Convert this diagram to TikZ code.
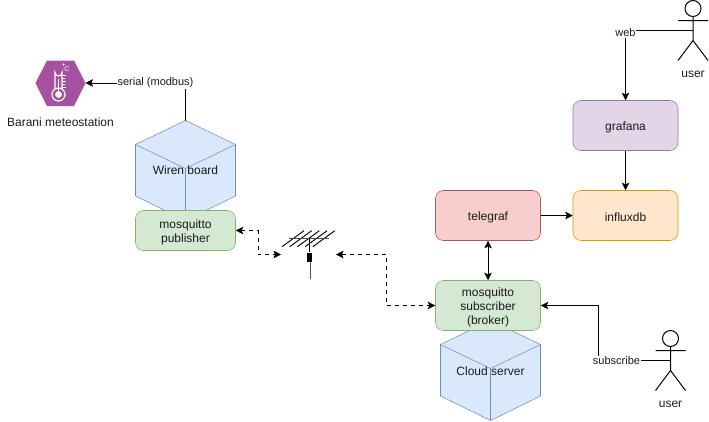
\documentclass[tikz,border=0pt]{standalone}
\usepackage{fontspec}
\setmainfont{Liberation Sans}
\usetikzlibrary{arrows.meta}
\definecolor{txt}{HTML}{1A1A1A}
\definecolor{gF}{HTML}{D5E8D4}\definecolor{gB}{HTML}{82B366}
\definecolor{rF}{HTML}{F8CECC}\definecolor{rB}{HTML}{B85450}
\definecolor{oF}{HTML}{FFE6CC}\definecolor{oB}{HTML}{D79B00}
\definecolor{pF}{HTML}{E1D5E7}\definecolor{pB}{HTML}{9673A6}
\definecolor{bF}{HTML}{DAE8FC}\definecolor{bB}{HTML}{6C8EBF}
\definecolor{hexF}{HTML}{A5519F}
\newcommand\topstrutx{\rule{0pt}{8.7pt}}
\tikzset{
  x=0.75pt,y=-0.75pt,
  line width=0.75pt,
  lbl/.style={font=\fontsize{9pt}{10.5pt}\selectfont,text=txt,inner sep=0pt,align=center},
  edgelbl/.style={font=\fontsize{8.25pt}{10pt}\selectfont,text=txt,fill=white,inner sep=0.5pt},
  boxn/.style={draw=#1,rounded corners=6pt,inner sep=0pt,font=\fontsize{9pt}{10.5pt}\selectfont,text=txt,align=center},
  pub/.style={boxn=gB,fill=gF,minimum width=75pt,minimum height=30pt},
  sub/.style={boxn=gB,fill=gF,minimum width=78.75pt,minimum height=37.5pt},
  tele/.style={boxn=rB,fill=rF,minimum width=78.75pt,minimum height=37.5pt},
  infl/.style={boxn=oB,fill=oF,minimum width=78.75pt,minimum height=37.5pt},
  graf/.style={boxn=pB,fill=pF,minimum width=78.75pt,minimum height=37.5pt},
  cube/.style={draw=bB,fill=bF,line join=round},
  conn/.style={draw=black,-{Stealth[length=5.6pt,width=5.6pt,inset=1.2pt]}},
  conn2/.style={draw=black,{Stealth[length=5.6pt,width=5.6pt,inset=1.2pt]}-{Stealth[length=5.6pt,width=5.6pt,inset=1.2pt]}},
  dconn/.style={conn2,dash pattern=on 3pt off 3pt},
  actor/.style={draw=black,line width=0.75pt},
  ther/.style={draw=white,line width=0.9pt},
}
\begin{document}
\begin{tikzpicture}
\useasboundingbox (0,0) rectangle (709,421);
% cubes
\path[cube] (135.5,144.5) -- (185.5,120.5) -- (235.5,144.5) -- (235.5,196) -- (185.5,220.5) -- (135.5,196) -- cycle;
\draw[cube,fill=none] (135.5,144.5) -- (185.5,168.5) -- (235.5,144.5) (185.5,168.5) -- (185.5,220.5);
\node[lbl] (wiren) at (185.5,170.5) {Wiren board};
\path[cube] (440.5,344.5) -- (490.5,320.5) -- (540.5,344.5) -- (540.5,396) -- (490.5,420.5) -- (440.5,396) -- cycle;
\draw[cube,fill=none] (440.5,344.5) -- (490.5,368.5) -- (540.5,344.5) (490.5,368.5) -- (490.5,420.5);
\node[lbl] (cloud) at (490.5,371) {Cloud server};
% boxes
\node[pub] (pubn) at (185.5,230.5) {\topstrutx mosquitto\\publisher};
\node[sub] (subn) at (488,305.5) {\topstrutx mosquitto\\subscriber\\(broker)};
\node[tele] (telen) at (488,215.5) {\topstrutx telegraf};
\node[infl] (infln) at (625.5,215.5) {\topstrutx influxdb};
\node[graf] (grafn) at (625.5,125.5) {\topstrutx grafana};
% hexagon
\fill[hexF] (35.5,83) -- (47,60.5) -- (74,60.5) -- (85.5,83) -- (74,106) -- (47,106) -- cycle;
\coordinate (hexE) at (85.5,83);
\draw[ther] (55,89) -- (55,72.5) arc[start angle=180,end angle=0,radius=3.5] -- (62,89);
\draw[ther] (58.5,94.5) circle[radius=6.5];
\fill[white] (58.5,94.5) circle[radius=3.4];
\fill[white] (57.7,79) rectangle (59.3,93);
\draw[white,line width=0.6pt] (62,75) -- (65.5,75) (62,78) -- (64.5,78) (62,81) -- (65.5,81) (62,84) -- (64.5,84) (62,87) -- (65.5,87);
\draw[white,line width=0.5pt] (63.5,64.5) circle[radius=0.7];
\node[font=\fontsize{5.2pt}{6pt}\selectfont,text=white,inner sep=0pt] (degc) at (67,69.5) {C};
\node[lbl] (meteo) at (60.5,122) {Barani meteostation};
% antenna
\foreach \i in {0,1,2,3,4}{
  \draw[black,line width=0.7pt] ({282+7.7*\i},246.7) -- ({304+7.7*\i},230.7);
}
\draw[black!70] (289,238) -- (329,238);
\draw[black] (309.5,238) -- (309.5,252);
\fill[black] (307.2,252.5) rectangle (311.8,261.5);
\draw[black!70] (310,261.5) -- (310,278.5);
\coordinate (antL) at (281,254.5);
\coordinate (antR) at (336,254.5);
% connections
\coordinate (wtop) at (185.5,120.5);
\draw[conn] (wtop) -- (185.5,83) -- (hexE);
\node[edgelbl] (serial) at (155.5,83) {serial (modbus)};
\draw[dconn] (pubn.east) -- (258,230.5) -- (258,254.5) -- (antL);
\draw[dconn] (antR) -- (386,254.5) -- (386,305.5) -- (subn.west);
\draw[conn2] (telen.south) -- (subn.north);
\draw[conn] (telen.east) -- (infln.west);
\draw[conn] (grafn.south) -- (infln.north);
% user top
\draw[actor] (693,8.5) circle[radius=8];
\draw[actor] (693,16.5) -- (693,40.5) (678,20.5) -- (708,20.5) (678,60.5) -- (693,40.5) -- (708,60.5);
\node[lbl] (user1) at (693,74.5) {user};
\coordinate (u1) at (693,30.5);
\draw[conn] (u1) -- (625.5,30.5) -- (grafn.north);
\node[edgelbl] (web) at (625.5,33) {web};
% user bottom
\draw[actor] (670.5,338.5) circle[radius=8];
\draw[actor] (670.5,346.5) -- (670.5,370.5) (655.5,350.5) -- (685.5,350.5) (655.5,390.5) -- (670.5,370.5) -- (685.5,390.5);
\node[lbl] (user2) at (670.5,404.5) {user};
\coordinate (u2) at (670.5,360.5);
\draw[conn] (u2) -- (598,360.5) -- (598,305.5) -- (subn.east);
\node[edgelbl] (subscr) at (616.5,360.5) {subscribe};
\end{tikzpicture}
\end{document}
